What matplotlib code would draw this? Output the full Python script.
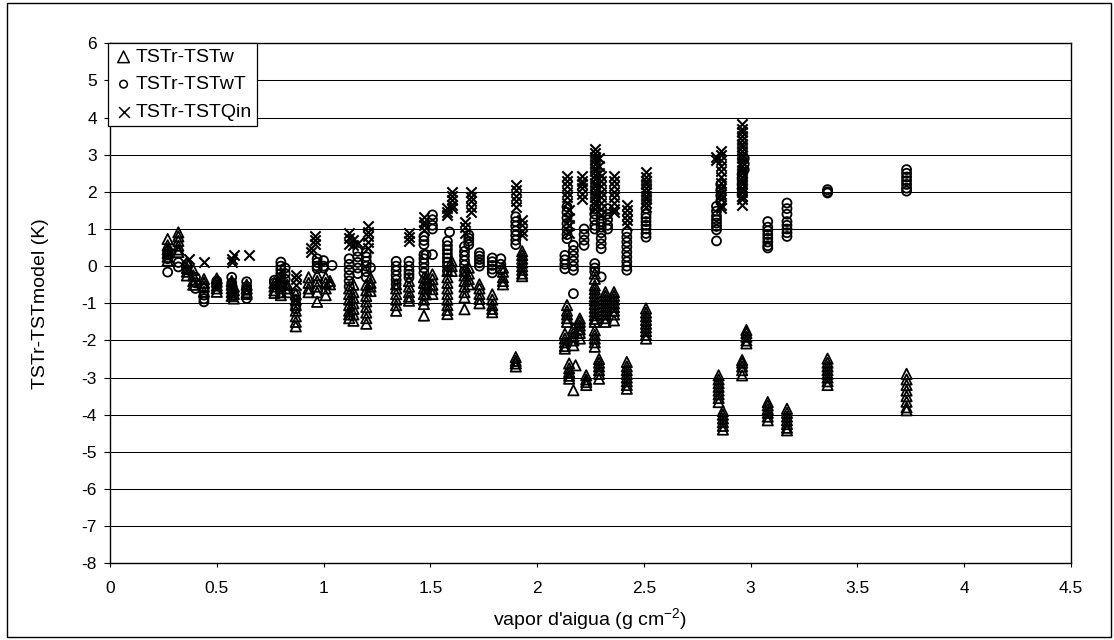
import matplotlib
matplotlib.use('Agg')
import matplotlib.pyplot as plt
from matplotlib.patches import Rectangle
from matplotlib.ticker import FuncFormatter, MultipleLocator

plt.rcParams['font.family'] = ['Liberation Sans', 'DejaVu Sans']
plt.rcParams['font.size'] = 12
plt.rcParams['axes.unicode_minus'] = False
plt.rcParams['mathtext.fontset'] = 'custom'
plt.rcParams['mathtext.rm'] = 'Liberation Sans'

# columnes de vapor d'aigua amb les diferencies corresponents
tstw = [
    (0.27, [0.73, 0.56, 0.45, 0.35, 0.25, 0.15]),
    (0.32, [0.91, 0.8, 0.68, 0.55, 0.45, 0.38]),
    (0.36, [0.1, -0.05, -0.15, -0.25]),
    (0.39, [-0.1, -0.25, -0.4, -0.5]),
    (0.44, [-0.35, -0.45, -0.55, -0.69]),
    (0.50, [-0.33, -0.42, -0.52, -0.6, -0.69]),
    (0.57, [-0.4, -0.5, -0.6, -0.7, -0.8]),
    (0.58, [-0.55, -0.65, -0.75, -0.87]),
    (0.64, [-0.5, -0.6, -0.7, -0.75]),
    (0.77, [-0.45, -0.55, -0.65, -0.72]),
    (0.80, [-0.3, -0.4, -0.5, -0.6, -0.7, -0.78]),
    (0.83, [-0.5, -0.6, -0.7]),
    (0.87, [-0.75, -0.9, -1.05, -1.2, -1.35, -1.5, -1.62]),
    (0.93, [-0.3, -0.45, -0.6, -0.7]),
    (0.97, [-0.24, -0.4, -0.55, -0.7, -0.96]),
    (1.01, [-0.3, -0.45, -0.6, -0.78]),
    (1.03, [-0.4, -0.49]),
    (1.12, [-0.6, -0.75, -0.9, -1.05, -1.2, -1.3, -1.4]),
    (1.14, [-0.5, -0.7, -0.85, -1.0, -1.15, -1.3, -1.47]),
    (1.20, [-0.5, -0.65, -0.8, -0.95, -1.1, -1.25, -1.4, -1.55]),
    (1.22, [-0.31, -0.45, -0.55, -0.67]),
    (1.34, [-0.49, -0.6, -0.75, -0.9, -1.05, -1.2]),
    (1.40, [-0.4, -0.55, -0.7, -0.82, -0.93]),
    (1.47, [-0.3, -0.45, -0.6, -0.75, -0.9, -1.02, -1.33]),
    (1.48, [-0.31, -0.45, -0.6, -0.76]),
    (1.51, [-0.22, -0.35, -0.5, -0.62, -0.75]),
    (1.58, [-0.13, -0.3, -0.45, -0.6, -0.75, -0.9, -1.05, -1.18, -1.29]),
    (1.60, [0.13, 0.0, -0.13]),
    (1.66, [-0.13, -0.25, -0.4, -0.55, -0.7, -0.84, -1.16]),
    (1.68, [-0.04, -0.2, -0.35, -0.49]),
    (1.73, [-0.49, -0.6, -0.75, -0.88, -1.0]),
    (1.79, [-0.76, -0.9, -1.05, -1.15, -1.24]),
    (1.84, [-0.04, -0.15, -0.3, -0.4, -0.49]),
    (1.90, [-2.45, -2.55, -2.62, -2.7]),
    (1.93, [0.4, 0.3, 0.2, 0.1, 0.0, -0.1, -0.2, -0.27]),
    (2.13, [-1.82, -1.95, -2.05, -2.15, -2.22]),
    (2.14, [-1.05, -1.2, -1.3, -1.4, -1.5]),
    (2.15, [-2.62, -2.75, -2.85, -2.95, -3.03]),
    (2.17, [-3.34, -1.68, -1.8, -1.9, -2.0, -2.13]),
    (2.18, [-2.67]),
    (2.20, [-1.41, -1.5, -1.6, -1.7, -1.8, -1.95]),
    (2.23, [-2.94, -3.05, -3.12, -3.2]),
    (2.27, [-0.2, -0.34, -0.52, -0.62, -0.72, -0.82, -0.92, -1.02, -1.12,
            -1.22, -1.32, -1.42, -1.5, -1.73, -1.85, -1.95, -2.05, -2.17]),
    (2.29, [-2.5, -2.6, -2.7, -2.8, -2.9, -3.03]),
    (2.32, [-0.7, -0.8, -0.9, -1.0, -1.1, -1.2, -1.3, -1.4, -1.5]),
    (2.36, [-0.7, -0.8, -0.9, -1.0, -1.1, -1.2, -1.3, -1.46]),
    (2.42, [-2.58, -2.7, -2.8, -2.9, -3.0, -3.1, -3.2, -3.3]),
    (2.51, [-1.14, -1.25, -1.35, -1.45, -1.55, -1.65, -1.75, -1.85, -1.95]),
    (2.85, [-2.94, -3.05, -3.15, -3.25, -3.35, -3.45, -3.55, -3.66]),
    (2.87, [-3.9, -4.0, -4.1, -4.2, -4.3, -4.4]),
    (2.96, [-2.53, -2.6, -2.7, -2.8, -2.94]),
    (2.98, [-1.72, -1.8, -1.9, -2.0, -2.08]),
    (3.08, [-3.66, -3.75, -3.85, -3.95, -4.05, -4.15]),
    (3.17, [-3.84, -3.95, -4.05, -4.15, -4.25, -4.35, -4.42]),
    (3.36, [-2.49, -2.6, -2.7, -2.8, -2.9, -3.0, -3.1, -3.2]),
    (3.73, [-2.9, -3.05, -3.2, -3.35, -3.5, -3.65, -3.8, -3.88]),
]

tstwt = [
    (0.27, [0.4, 0.3, 0.2, -0.16]),
    (0.32, [0.1, -0.02]),
    (0.36, [0.05, -0.1]),
    (0.40, [-0.3, -0.45, -0.6]),
    (0.44, [-0.6, -0.78, -0.88, -0.96]),
    (0.50, [-0.4, -0.5]),
    (0.57, [-0.3, -0.45, -0.6]),
    (0.64, [-0.42, -0.55, -0.65, -0.75, -0.87]),
    (0.77, [-0.38, -0.45]),
    (0.80, [0.11, 0.0, -0.1, -0.2, -0.3]),
    (0.82, [-0.05, -0.2, -0.35]),
    (0.87, [-0.75, -0.9, -1.05, -1.15]),
    (0.97, [0.2, 0.1, 0.0, -0.07]),
    (1.00, [0.15, 0.0, -0.05]),
    (1.04, [0.02]),
    (1.12, [0.2, 0.05, -0.1, -0.25, -0.4, -0.55]),
    (1.16, [0.4, 0.25, 0.1, -0.05, -0.2]),
    (1.20, [0.36, 0.25, 0.13, 0.0, -0.15, -0.3]),
    (1.22, [-0.04]),
    (1.34, [0.13, 0.0, -0.12, -0.25, -0.37, -0.49]),
    (1.40, [0.13, 0.0, -0.12, -0.22, -0.31]),
    (1.47, [0.8, 0.69, 0.58, 0.31, 0.2, 0.08, -0.05, -0.18]),
    (1.48, [0.31]),
    (1.51, [1.38, 1.25, 1.1, 1.0, 0.31]),
    (1.58, [0.67, 0.55, 0.44, 0.33, 0.22, 0.11, 0.0, -0.13]),
    (1.59, [0.92]),
    (1.66, [0.53, 0.4, 0.28, 0.15, 0.03, -0.13]),
    (1.68, [0.84, 0.75, 0.67, 0.58]),
    (1.73, [0.36, 0.27, 0.18, 0.09, 0.0]),
    (1.79, [0.22, 0.12, 0.02, -0.08, -0.18]),
    (1.83, [0.2, 0.05, -0.1]),
    (1.90, [1.33, 1.2, 1.08, 0.95, 0.83, 0.7, 0.58]),
    (2.13, [0.29, 0.17, 0.05, -0.07]),
    (2.14, [1.6, 1.45, 1.3, 1.15, 1.0, 0.85, 0.74]),
    (2.17, [-0.74, 0.56, 0.42, 0.28, 0.14, 0.0, -0.11]),
    (2.22, [1.0, 0.85, 0.7, 0.56]),
    (2.27, [1.55, 1.4, 1.25, 1.1, 1.0, 0.07, -0.05, -0.15]),
    (2.30, [1.37, 1.2, 1.05, 0.9, 0.75, 0.6, 0.47, -0.29]),
    (2.33, [1.55, 1.4, 1.25, 1.1, 1.0]),
    (2.42, [0.92, 0.78, 0.65, 0.52, 0.38, 0.25, 0.12, 0.0, -0.11]),
    (2.51, [1.55, 1.4, 1.3, 1.2, 1.1, 1.0, 0.88, 0.78]),
    (2.84, [1.61, 1.48, 1.35, 1.25, 1.16, 1.07, 0.98, 0.68]),
    (2.86, [2.2, 2.05, 1.9, 1.75]),
    (2.96, [2.47, 2.35, 2.2, 2.08, 1.93]),
    (2.97, [2.9, 2.75, 2.6]),
    (3.08, [1.2, 1.05, 0.95, 0.85, 0.75, 0.65, 0.55, 0.49]),
    (3.17, [1.7, 1.55, 1.4, 1.2, 1.1, 1.0, 0.9, 0.8]),
    (3.36, [2.06, 2.0, 1.97]),
    (3.73, [2.6, 2.5, 2.4, 2.3, 2.2, 2.1, 2.02]),
]

tstqin = [
    (0.37, [0.2]),
    (0.44, [0.11]),
    (0.57, [0.11, 0.2]),
    (0.58, [0.29]),
    (0.65, [0.29]),
    (0.87, [-0.24, -0.35, -0.51]),
    (0.94, [0.5, 0.38]),
    (0.96, [0.82, 0.7, 0.6]),
    (1.12, [0.89, 0.75, 0.6]),
    (1.14, [0.7, 0.58]),
    (1.16, [0.62]),
    (1.21, [1.07, 0.93, 0.8, 0.65, 0.49]),
    (1.40, [0.89, 0.78, 0.67]),
    (1.47, [1.33, 1.2, 1.1, 0.98]),
    (1.58, [1.56, 1.47, 1.38]),
    (1.60, [2.0, 1.9, 1.78, 1.66, 1.56]),
    (1.66, [1.2, 1.05, 0.89]),
    (1.69, [2.0, 1.87, 1.75, 1.6, 1.47]),
    (1.90, [2.18, 2.05, 1.9, 1.75, 1.6]),
    (1.93, [1.24, 1.1, 0.96, 0.84]),
    (2.14, [2.44, 2.3, 2.15, 2.0, 1.85, 1.7]),
    (2.15, [1.5, 1.3, 1.1, 0.9]),
    (2.21, [2.44, 2.3, 2.2, 2.1, 1.95, 1.82]),
    (2.27, [3.16, 3.05, 2.95, 2.85, 2.75, 2.65, 2.55, 2.45, 2.35, 2.25,
            2.15, 2.05, 1.95, 1.85, 1.75, 1.65, 1.55]),
    (2.29, [2.9, 2.7, 2.5]),
    (2.30, [2.44, 2.3, 2.15, 2.0, 1.85, 1.7, 1.55, 1.37]),
    (2.36, [2.44, 2.3, 2.15, 2.0, 1.85, 1.7, 1.55, 1.46]),
    (2.42, [1.64, 1.5, 1.38, 1.25, 1.1]),
    (2.51, [2.53, 2.4, 2.3, 2.2, 2.1, 2.0, 1.9, 1.8, 1.7, 1.6]),
    (2.84, [2.95, 2.85]),
    (2.86, [3.1, 2.98, 2.85, 2.7, 2.55, 2.4, 2.25, 2.1, 1.95, 1.8, 1.65, 1.57]),
    (2.96, [3.82, 3.7, 3.6, 3.5, 3.4, 3.3, 3.2, 3.1, 3.0, 2.9, 2.8, 2.7,
            2.6, 2.5, 2.4, 2.3, 2.2, 2.1, 2.0, 1.9, 1.8, 1.66]),
]

labels = ['TSTr-TSTw', 'TSTr-TSTwT', 'TSTr-TSTQin']


def flatten(cols):
    xs = []
    ys = []
    for xv, yl in cols:
        for yv in yl:
            xs.append(xv)
            ys.append(yv)
    return xs, ys


fig = plt.figure(figsize=(11.14, 6.4), dpi=100)
ax = fig.add_axes([110 / 1114, 1 - 563.3 / 640, 961 / 1114, 520 / 640])

x1, y1 = flatten(tstw)
x2, y2 = flatten(tstwt)
x3, y3 = flatten(tstqin)

ax.scatter(x1, y1, marker='^', s=55, facecolors='none', edgecolors='black',
           linewidths=1.3, label=labels[0], zorder=3)
ax.scatter(x2, y2, marker='o', s=42, facecolors='none', edgecolors='black',
           linewidths=1.3, label=labels[1], zorder=3)
ax.scatter(x3, y3, marker='x', s=55, color='black',
           linewidths=1.5, label=labels[2], zorder=3)

ax.set_xlim(0, 4.5)
ax.set_ylim(-8, 6)
ax.xaxis.set_major_locator(MultipleLocator(0.5))
ax.yaxis.set_major_locator(MultipleLocator(1))
ax.xaxis.set_major_formatter(FuncFormatter(lambda v, p: ('%g' % v)))
ax.yaxis.set_major_formatter(FuncFormatter(lambda v, p: ('%d' % v)))

ax.yaxis.grid(True, color='black', linewidth=0.75, zorder=1)
ax.set_axisbelow(True)
for sp in ax.spines.values():
    sp.set_color('black')
    sp.set_linewidth(1.0)

ax.tick_params(axis='y', direction='out', length=4, width=0.8, pad=5.5, labelsize=12.5)
ax.tick_params(axis='x', direction='out', length=3, width=0.8, pad=10, labelsize=12.5)

ax.set_ylabel('TSTr-TSTmodel (K)', fontsize=14)
ax.set_xlabel("vapor d'aigua (g cm$^{\\mathregular{-2}}$)", fontsize=14)
ax.yaxis.set_label_coords(-0.063, 0.5)
ax.xaxis.set_label_coords(0.5, -0.083)

leg = ax.legend(loc='upper left', bbox_to_anchor=(108 / 1114, 1 - 42.5 / 640),
                bbox_transform=fig.transFigure, borderaxespad=0, fancybox=False,
                framealpha=1, edgecolor='black', fontsize=14,
                handlelength=1.0, handletextpad=0.1, borderpad=0.3,
                labelspacing=0.5)
leg.get_frame().set_linewidth(0.9)
leg.set_zorder(5)
for h, sz in zip(leg.legend_handles, [70, 30, 60]):
    h.set_sizes([sz])
    h.set_linewidths(1.1)

# marc exterior de la figura
fig.patches.append(Rectangle((7 / 1114, 3 / 640), 1104 / 1114, 634 / 640,
                             transform=fig.transFigure, fill=False,
                             edgecolor='black', linewidth=1.0))

fig.savefig('out.png', dpi=100)
